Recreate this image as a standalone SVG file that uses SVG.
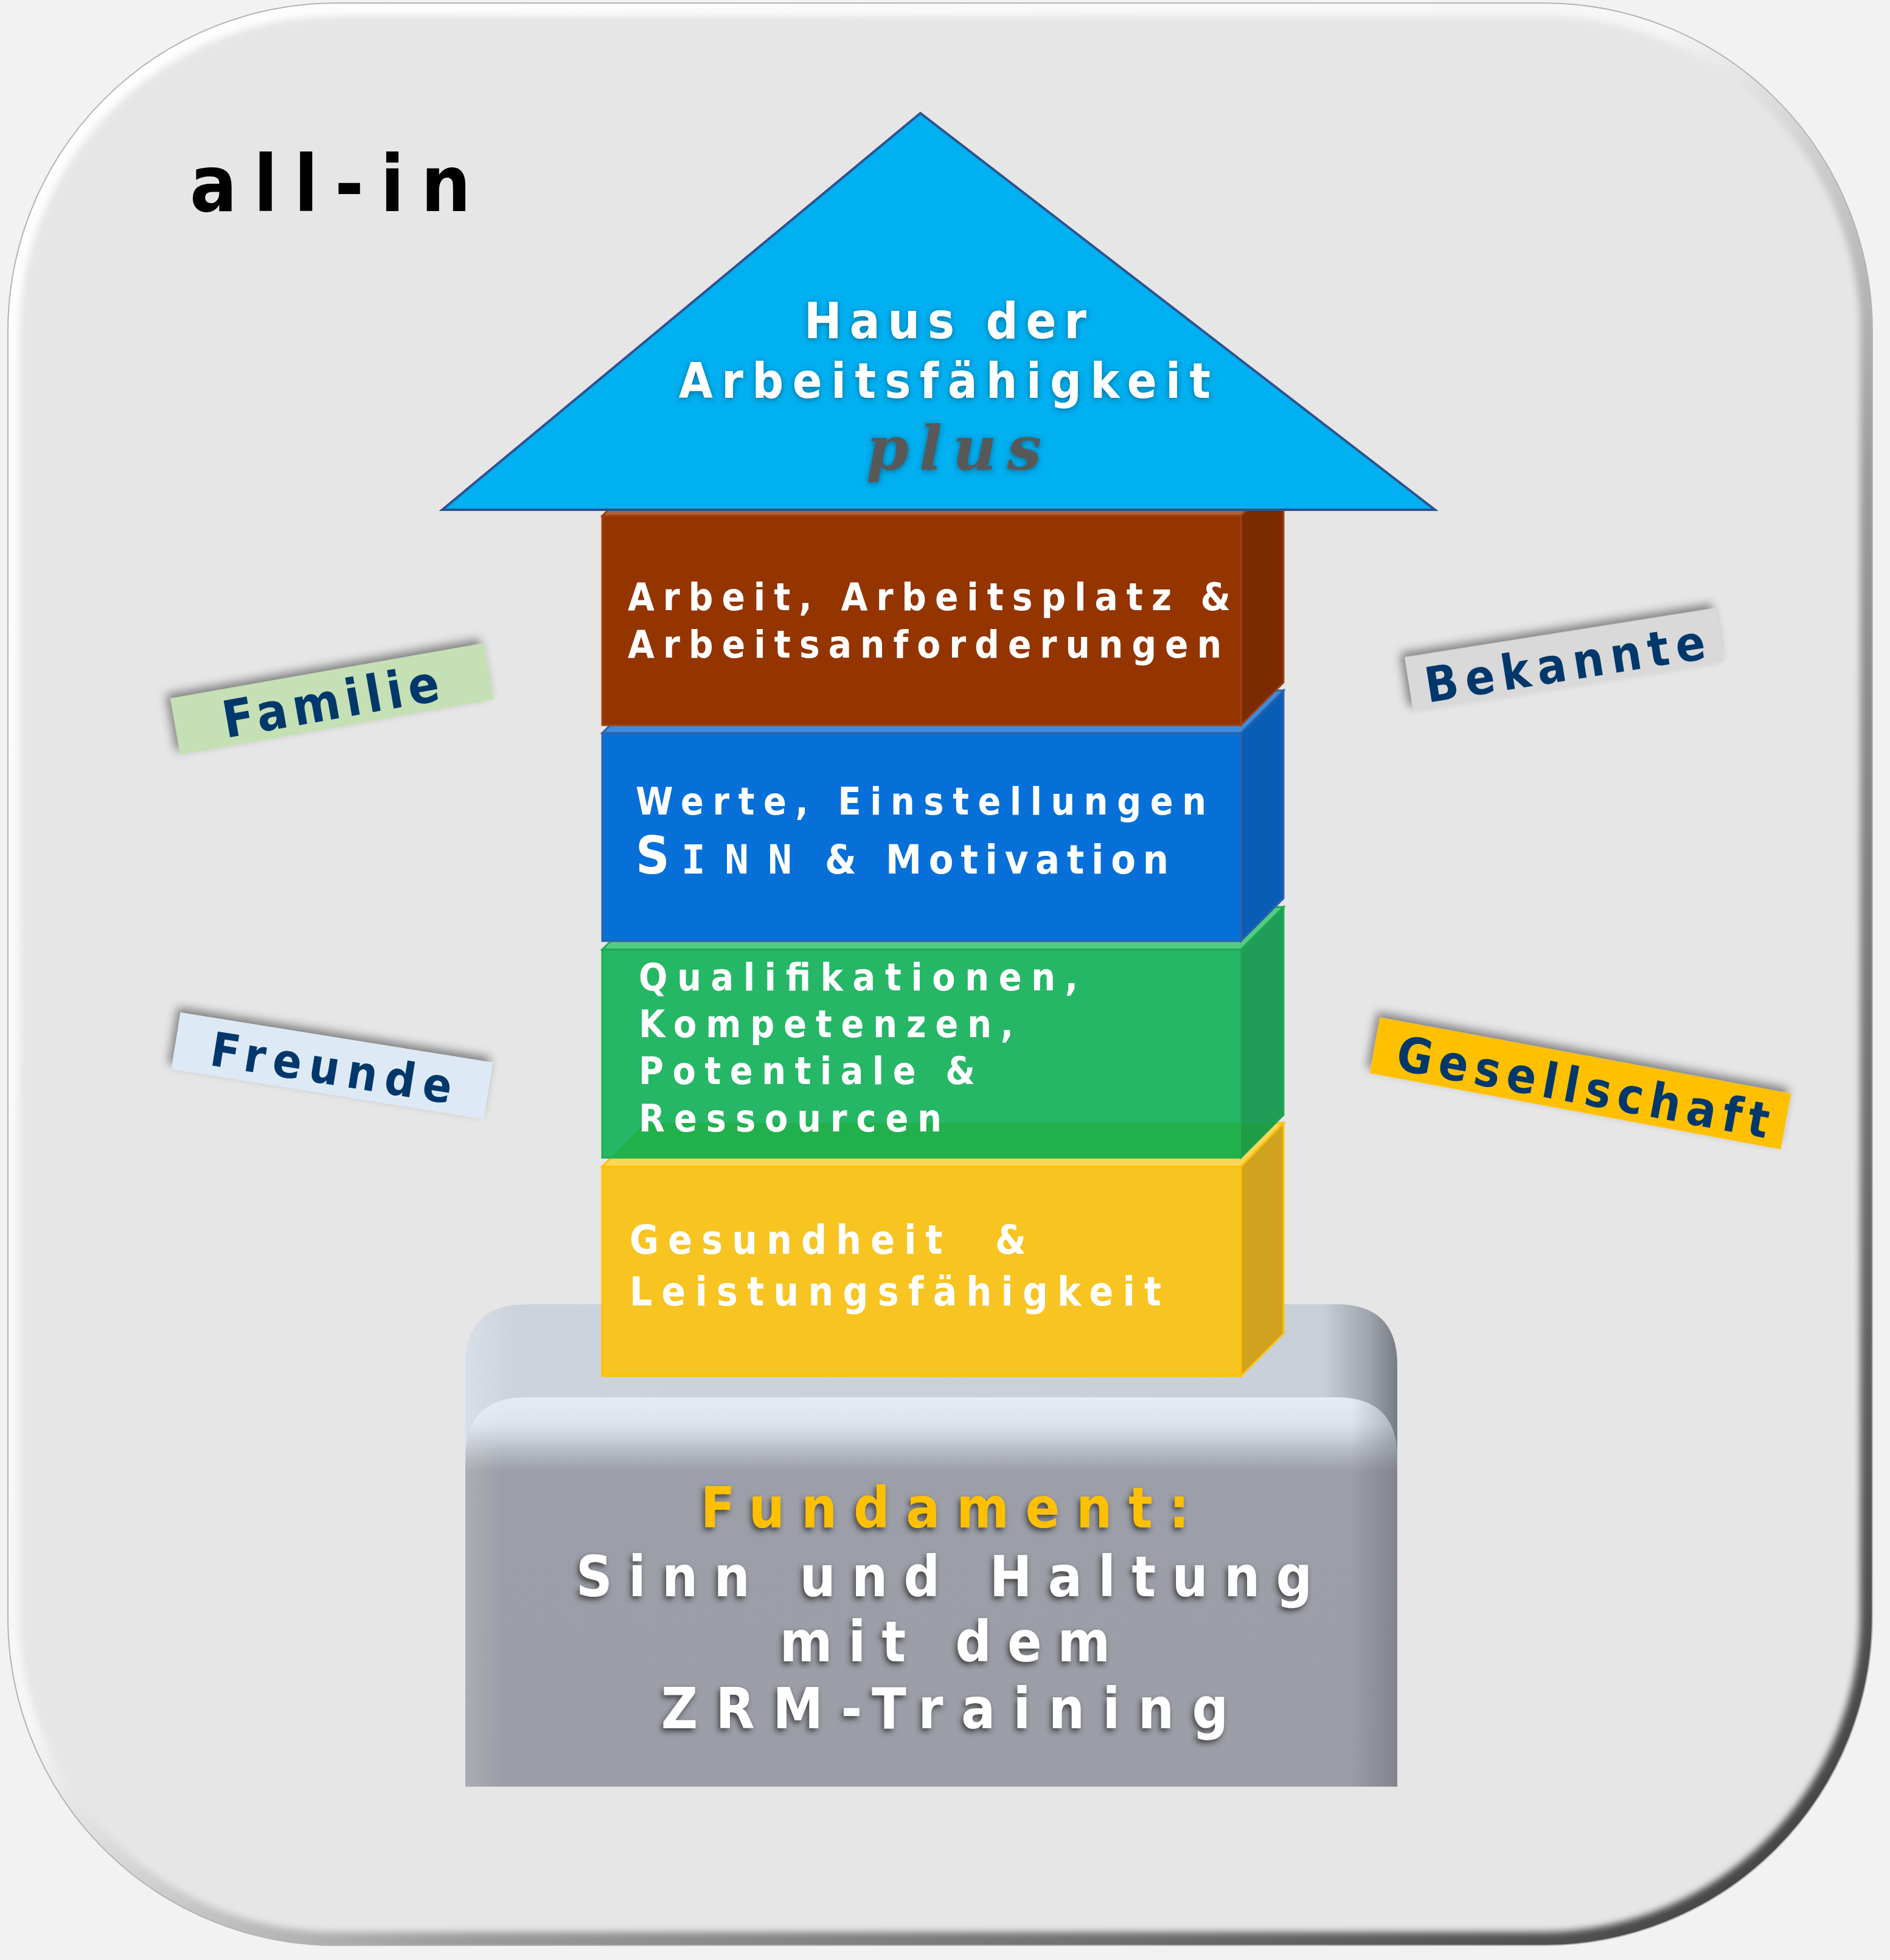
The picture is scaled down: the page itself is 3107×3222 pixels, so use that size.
<svg xmlns="http://www.w3.org/2000/svg" width="3107" height="3222" viewBox="0 0 3107 3222">
<defs>
<style>
.t{font-family:'DejaVu Sans Condensed','DejaVu Sans',sans-serif;font-weight:bold;fill:#fff}
.tag{font-family:'DejaVu Sans Condensed','DejaVu Sans',sans-serif;font-weight:bold;fill:#00386b}
.pre{white-space:pre}
</style>
<linearGradient id="rim" x1="0" y1="0" x2="1" y2="1">
<stop offset="0" stop-color="#ffffff"/>
<stop offset="0.45" stop-color="#f6f6f6"/>
<stop offset="0.62" stop-color="#9c9c9c"/>
<stop offset="1" stop-color="#3a3a3a"/>
</linearGradient>
<linearGradient id="backH" x1="0" y1="0" x2="1" y2="0">
<stop offset="0" stop-color="#d9dfe8"/>
<stop offset="0.05" stop-color="#cdd3dc"/>
<stop offset="0.92" stop-color="#c9cfd8"/>
<stop offset="0.97" stop-color="#9ea3ac"/>
<stop offset="1" stop-color="#767b84"/>
</linearGradient>
<linearGradient id="frontV" x1="0" y1="0" x2="0" y2="1">
<stop offset="0" stop-color="#e6ecf6"/>
<stop offset="0.07" stop-color="#dde3ed"/>
<stop offset="0.15" stop-color="#b0b4bc"/>
<stop offset="0.19" stop-color="#9c9fa7"/>
<stop offset="1" stop-color="#9b9ea6"/>
</linearGradient>
<linearGradient id="frontEdge" x1="0" y1="0" x2="1" y2="0">
<stop offset="0" stop-color="#ffffff" stop-opacity="0.15"/>
<stop offset="0.04" stop-color="#ffffff" stop-opacity="0"/>
<stop offset="0.95" stop-color="#50545c" stop-opacity="0"/>
<stop offset="1" stop-color="#50545c" stop-opacity="0.35"/>
</linearGradient>
<filter id="soft" x="-5%" y="-5%" width="110%" height="110%"><feGaussianBlur stdDeviation="6"/></filter>
<filter id="tagShadow" x="-20%" y="-50%" width="140%" height="200%"><feDropShadow dx="-6" dy="-8" stdDeviation="8" flood-color="#000" flood-opacity="0.45"/></filter>
<filter id="roofGlow" x="-10%" y="-30%" width="120%" height="160%"><feDropShadow dx="0" dy="2" stdDeviation="5" flood-color="#10304a" flood-opacity="0.55"/></filter>
<filter id="pedShadow" x="-10%" y="-30%" width="120%" height="160%"><feDropShadow dx="-3" dy="5" stdDeviation="5" flood-color="#2a2a2a" flood-opacity="0.8"/></filter>
</defs>

<rect width="3107" height="3222" fill="#f2f2f2"/>

<g id="panel">
<rect x="13" y="5" width="3065" height="3193" rx="540" ry="540" fill="url(#rim)" stroke="#b4b4b4" stroke-width="2"/>
<rect x="32" y="26" width="3026" height="3150" rx="522" ry="522" fill="#e6e6e6" filter="url(#soft)"/>
</g>

<g id="title">
<text class="t" x="312" y="347" font-size="128" textLength="462" lengthAdjust="spacing" style="fill:#000">all-in</text>
</g>

<g id="pedestal">
<path d="M765,2420 V2244 Q765,2144 865,2144 H2197 Q2297,2144 2297,2244 V2420 Z" fill="url(#backH)"/>
<path d="M765,2937 V2397 Q765,2297 865,2297 H2197 Q2297,2297 2297,2397 V2937 Z" fill="url(#frontV)"/>
<path d="M765,2937 V2397 Q765,2297 865,2297 H2197 Q2297,2297 2297,2397 V2937 Z" fill="url(#frontEdge)"/>
<g filter="url(#pedShadow)">
<text class="t" x="1152" y="2511" font-size="92" textLength="803" lengthAdjust="spacing" style="fill:#ffc000">Fundament:</text>
<text class="t" x="947" y="2624" font-size="92" textLength="1210" lengthAdjust="spacing">Sinn und Haltung</text>
<text class="t" x="1282" y="2731" font-size="92" textLength="543" lengthAdjust="spacing">mit dem</text>
<text class="t" x="1087" y="2841" font-size="92" textLength="932" lengthAdjust="spacing">ZRM-Training</text>
</g>
</g>

<g id="block-gesundheit">
<polygon points="990,1918 2040,1918 2110,1846 1060,1846" fill="#fcd757" stroke="#ffc000" stroke-width="3"/>
<polygon points="2040,1918 2110,1846 2110,2192 2040,2262" fill="#cfa320" stroke="#ffc000" stroke-width="3"/>
<rect x="990" y="1918" width="1050" height="344" fill="#f8c421" stroke="#ffc000" stroke-width="3"/>
<text class="t pre" x="1035" y="2061" font-size="65" textLength="652" lengthAdjust="spacing">Gesundheit  &amp;</text>
<text class="t" x="1035" y="2146" font-size="65" textLength="874" lengthAdjust="spacing">Leistungsfähigkeit</text>
</g>

<g id="block-qualifikationen">
<polygon points="990,1561 2040,1561 2110,1491 1060,1491" fill="#52cc83" stroke="#1faa52" stroke-width="3"/>
<polygon points="2040,1561 2110,1491 2110,1833 2040,1903" fill="#1f9d57" stroke="#1faa52" stroke-width="3"/>
<rect x="990" y="1561" width="1050" height="342" fill="#25b766" stroke="#1faa52" stroke-width="3"/>
<polygon points="1005,1903 2040,1903 2040,1846 1060,1846" fill="#22b04b"/>
<polygon points="2040,1846 2040,1903 2097,1846" fill="#1e9d45"/>
<text class="t" x="1050" y="1628" font-size="62" textLength="722" lengthAdjust="spacing">Qualifikationen,</text>
<text class="t" x="1050" y="1705" font-size="62" textLength="616" lengthAdjust="spacing">Kompetenzen,</text>
<text class="t" x="1050" y="1782" font-size="62" textLength="553" lengthAdjust="spacing">Potentiale &amp;</text>
<text class="t" x="1050" y="1860" font-size="62" textLength="498" lengthAdjust="spacing">Ressourcen</text>
</g>

<g id="block-werte">
<polygon points="990,1205 2040,1205 2110,1135 1060,1135" fill="#3c8ce2" stroke="#2e62a8" stroke-width="3"/>
<polygon points="2040,1205 2110,1135 2110,1477 2040,1547" fill="#0a5db5" stroke="#2e62a8" stroke-width="3"/>
<rect x="990" y="1205" width="1050" height="342" fill="#0670d8" stroke="#2e62a8" stroke-width="3"/>
<text class="t" x="1045" y="1339" font-size="62" textLength="938" lengthAdjust="spacing">Werte, Einstellungen</text>
<text class="t" x="1045" y="1436" font-size="86">S</text>
<text x="1120" y="1436" font-size="66" textLength="182" lengthAdjust="spacing" style="font-family:'DejaVu Sans Mono',monospace;font-weight:bold;fill:#fff">INN</text>
<text class="t" x="1356" y="1436" font-size="66">&amp;</text>
<text class="t" x="1456" y="1436" font-size="66" textLength="465" lengthAdjust="spacing">Motivation</text>
</g>

<g id="block-arbeit">
<polygon points="990,848 2040,848 2110,778 1060,778" fill="#b0603a" stroke="#a0400c" stroke-width="3"/>
<polygon points="2040,848 2110,778 2110,1122 2040,1192" fill="#7a2b00" stroke="#a0400c" stroke-width="3"/>
<rect x="990" y="848" width="1050" height="344" fill="#943500" stroke="#a0400c" stroke-width="3"/>
<text class="t" x="1032" y="1003" font-size="63" textLength="991" lengthAdjust="spacing">Arbeit, Arbeitsplatz &amp;</text>
<text class="t" x="1032" y="1081" font-size="63" textLength="976" lengthAdjust="spacing">Arbeitsanforderungen</text>
</g>

<g id="roof">
<polygon points="1513,186 2359,838 727,838" fill="#00b0f0" stroke="#2f528f" stroke-width="4" stroke-linejoin="miter"/>
<g filter="url(#roofGlow)">
<text class="t" x="1322" y="556" font-size="82" textLength="464" lengthAdjust="spacing">Haus der</text>
<text class="t" x="1116" y="654" font-size="80" textLength="874" lengthAdjust="spacing">Arbeitsfähigkeit</text>
<text x="1424" y="772" font-size="100" textLength="288" lengthAdjust="spacing" style="font-family:'DejaVu Serif',serif;font-weight:bold;font-style:italic;fill:#595959">plus</text>
</g>
</g>

<g id="tag-familie" transform="translate(546,1149) rotate(-10)">
<rect x="-261.5" y="-47" width="523" height="94" fill="#c5e0b4" filter="url(#tagShadow)"/>
<text class="tag" x="-183" y="33" font-size="84" textLength="360" lengthAdjust="spacing">Familie</text>
</g>

<g id="tag-bekannte" transform="translate(2572,1084) rotate(-9)">
<rect x="-259" y="-44.5" width="518" height="89" fill="#d9d9d9" filter="url(#tagShadow)"/>
<text class="tag" x="-233" y="35" font-size="80" textLength="465" lengthAdjust="spacing">Bekannte</text>
</g>

<g id="tag-freunde" transform="translate(546,1752) rotate(9.1)">
<rect x="-260" y="-47" width="520" height="94" fill="#ddeaf6" filter="url(#tagShadow)"/>
<text class="tag" x="-201" y="31" font-size="78" textLength="401" lengthAdjust="spacing">Freunde</text>
</g>

<g id="tag-gesellschaft" transform="translate(2598,1781) rotate(10.5)">
<rect x="-343.5" y="-46.5" width="687" height="93" fill="#ffc000" filter="url(#tagShadow)"/>
<text class="tag" x="-305" y="33" font-size="80" textLength="621" lengthAdjust="spacing">Gesellschaft</text>
</g>

<g id="connectors"/>
</svg>
